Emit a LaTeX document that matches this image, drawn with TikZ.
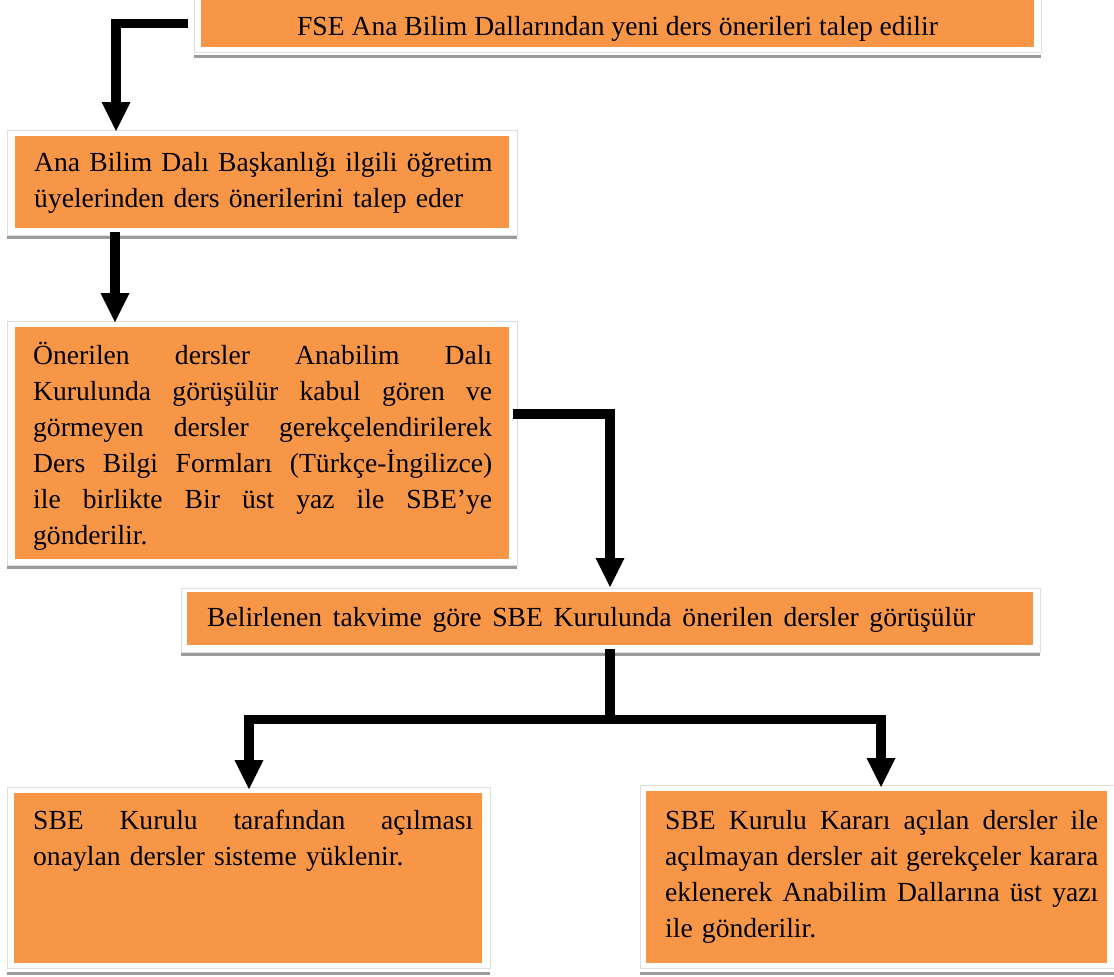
\documentclass[tikz,border=0pt]{standalone}
\usepackage{fontspec}
\setmainfont{Liberation Serif}
\usetikzlibrary{arrows.meta,calc}

\definecolor{boxorange}{RGB}{247,150,70}
\definecolor{framegray}{RGB}{222,222,222}
\definecolor{bandgray}{RGB}{155,155,155}

% one justified line of a given width: every word space stretches evenly
\newcommand{\jline}[2]{\leavevmode\hbox to #1{\spaceskip=0.25em plus 1fil\relax #2}}

\tikzset{
  obox/.style={fill=boxorange, draw=none, inner sep=0pt, anchor=north west},
  frame/.style={draw=framegray, line width=0.8pt, fill=white},
  band/.style={fill=bandgray, draw=none},
  txt/.style={inner sep=0pt, anchor=base west, align=left,
              font=\fontsize{27.6}{36}\selectfont},
  conn/.style={line width=9.5pt, line join=miter, draw=black},
  arr/.style={conn, -{Triangle[width=29pt,length=29pt,line width=0pt]}},
  arrboth/.style={conn, {Triangle[width=29pt,length=29pt,line width=0pt]}-{Triangle[width=29pt,length=29pt,line width=0pt]}}
}

\begin{document}
\begin{tikzpicture}[x=1pt,y=-1pt]
\useasboundingbox (0,0) rectangle (1114,977);

% ---- frames and shadow bands ----
\draw[frame] (194,-5) rectangle (1041,52);
\fill[band] (194,55) rectangle (1041,58);

\draw[frame] (7,130) rectangle (517,235);
\fill[band] (7,236) rectangle (517,239);

\draw[frame] (7,321) rectangle (517,565);
\fill[band] (7,566) rectangle (517,569);

\draw[frame] (181,588) rectangle (1040,652);
\fill[band] (181,653) rectangle (1040,656);

\draw[frame] (7,787) rectangle (490,968);
\fill[band] (7,972) rectangle (490,975);

\draw[frame] (640,785) rectangle (1114,968);
\fill[band] (640,972) rectangle (1114,975);

% ---- orange boxes ----
\node[obox, minimum width=833pt, minimum height=47pt] (o1) at (201,0) {};
\node[obox, minimum width=494pt, minimum height=92pt] (o2) at (15,136) {};
\node[obox, minimum width=494pt, minimum height=232pt] (o3) at (15,327) {};
\node[obox, minimum width=846pt, minimum height=53pt] (o4) at (187,592) {};
\node[obox, minimum width=468pt, minimum height=170pt] (o5) at (14,793) {};
\node[obox, minimum width=461pt, minimum height=172pt] (o6) at (646,791) {};

% ---- texts ----
\node[txt, anchor=base] (t1) at (617.5,35)
  {FSE Ana Bilim Dallarından yeni ders önerileri talep edilir};

\node[txt, text width=470pt] (t2) at (34,171)
  {Ana Bilim Dalı Başkanlığı ilgili öğretim\\
   üyelerinden ders önerilerini talep eder};

\node[txt, text width=459pt] (t3) at (33,364)
  {\jline{459pt}{Önerilen dersler Anabilim Dalı}\\
   \jline{459pt}{Kurulunda görüşülür kabul gören ve}\\
   \jline{459pt}{görmeyen dersler gerekçelendirilerek}\\
   \jline{459pt}{Ders Bilgi Formları (Türkçe-İngilizce)}\\
   \jline{459pt}{ile birlikte Bir üst yaz ile SBE’ye}\\
   gönderilir.};

\node[txt, text width=768pt] (t4) at (207,626)
  {\jline{768pt}{Belirlenen takvime göre SBE Kurulunda önerilen dersler görüşülür}};

\node[txt, text width=440pt] (t5) at (33,829)
  {\jline{440pt}{SBE Kurulu tarafından açılması}\\
   onaylan dersler sisteme yüklenir.};

\node[txt, text width=433pt] (t6) at (665,829)
  {\jline{433pt}{SBE Kurulu Kararı açılan dersler ile}\\
   \jline{433pt}{açılmayan dersler ait gerekçeler karara}\\
   \jline{433pt}{eklenerek Anabilim Dallarına üst yazı}\\
   ile gönderilir.};

% ---- connectors ----
\draw[arr] ([xshift=-13pt]o1.west) -| ([xshift=101pt,yshift=5pt]o2.north west);
\draw[arr] ([xshift=100pt,yshift=-4pt]o2.south west) -- ([xshift=100pt,yshift=5pt]o3.north west);
\draw[arr] ([xshift=4pt,yshift=29pt]o3.east) -| ([xshift=423pt,yshift=5pt]o4.north west);

\coordinate (split) at ([xshift=423pt,yshift=-74pt]o4.south west);
\draw[conn] ([xshift=423pt,yshift=-4pt]o4.south west) -- ([yshift=-4.75pt]split);
\draw[arrboth] ([xshift=235pt,yshift=4pt]o5.north west) |- (split)
  -| ([xshift=235pt,yshift=4pt]o6.north west);
\end{tikzpicture}
\end{document}
